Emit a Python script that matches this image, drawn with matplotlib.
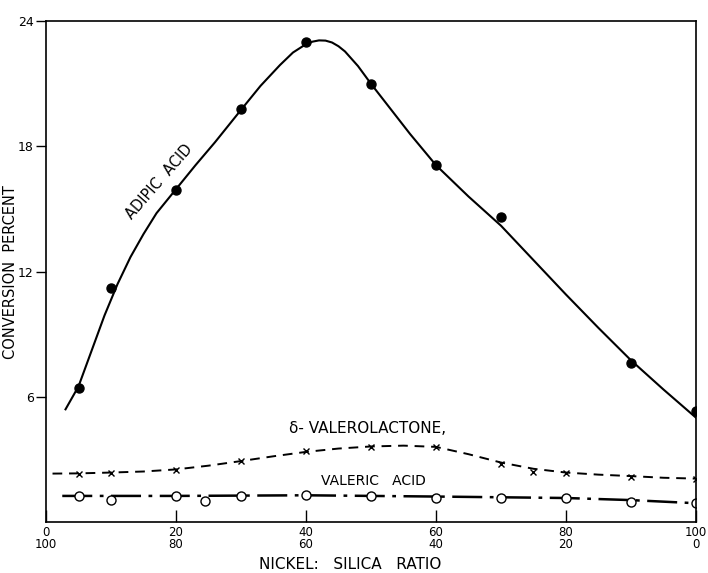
# nickel_silica_conversion.py
# Conversion percent of products vs. nickel:silica catalyst ratio

import matplotlib
matplotlib.use("Agg")
import matplotlib.pyplot as plt

# measured points
ratio = [5, 10, 20, 30, 40, 50, 60, 70, 90, 100]
adipic = [6.4, 11.2, 15.9, 19.8, 23.0, 21.0, 17.1, 14.6, 7.6, 5.3]

valero_x = [5, 10, 20, 30, 40, 50, 60, 70, 75, 80, 90, 100]
valero = [2.32, 2.37, 2.51, 2.9, 3.38, 3.59, 3.59, 2.8, 2.42, 2.37, 2.18, 2.08]

valeric_x = [5, 10, 20, 24.5, 30, 40, 50, 60, 70, 80, 90, 100]
valeric = [1.23, 1.07, 1.23, 1.01, 1.23, 1.3, 1.23, 1.14, 1.17, 1.17, 0.98, 0.91]

# hand-drawn fitted curves
adipic_curve_x = [3, 5, 7, 9, 11, 13, 15, 17, 20, 23, 26, 30, 33, 36, 38, 40,
                  41, 42, 43, 44, 45, 46, 48, 50, 53, 56, 60, 65, 70, 75, 80,
                  85, 90, 95, 100]
adipic_curve_y = [5.4, 6.5, 8.2, 9.9, 11.4, 12.7, 13.8, 14.8, 15.95, 17.1, 18.2,
                  19.75, 20.9, 21.9, 22.5, 22.9, 23.02, 23.08, 23.07, 22.98,
                  22.8, 22.55, 21.85, 21.0, 19.8, 18.6, 17.1, 15.6, 14.2, 12.55,
                  10.9, 9.3, 7.75, 6.35, 5.0]

valero_curve_x = [1, 5, 10, 15, 20, 25, 30, 35, 40, 45, 50, 55, 60, 65, 70, 75,
                  80, 85, 90, 95, 100]
valero_curve_y = [2.32, 2.33, 2.37, 2.42, 2.52, 2.7, 2.92, 3.15, 3.36, 3.52, 3.62,
                  3.66, 3.6, 3.25, 2.85, 2.55, 2.37, 2.27, 2.2, 2.12, 2.08]

valeric_curve_x = [2.5, 20, 40, 60, 80, 90, 100]
valeric_curve_y = [1.25, 1.25, 1.28, 1.22, 1.15, 1.05, 0.9]

xticks = [0, 20, 40, 60, 80, 100]
xtick_labels = ["0\n100", "20\n80", "40\n60", "60\n40", "80\n20", "100\n0"]
yticks = [6, 12, 18, 24]

fig = plt.figure(figsize=(7.08, 5.73), dpi=100)
ax = fig.add_axes([0.065, 0.089, 0.918, 0.874])

ax.plot(adipic_curve_x, adipic_curve_y, color="black", lw=1.5)
ax.plot(ratio, adipic, "o", color="black", ms=6.5)

ax.plot(valero_curve_x, valero_curve_y, color="black", lw=1.4, dashes=(5, 3.5))
ax.plot(valero_x, valero, "x", color="black", ms=4.5, mew=1.0)

ax.plot(valeric_curve_x, valeric_curve_y, color="black", lw=1.8,
        dashes=(12, 3, 1.5, 3))
ax.plot(valeric_x, valeric, "o", color="black", mfc="white", ms=6.5, mew=1.0)

ax.text(17.4, 16.3, "ADIPIC  ACID", rotation=49, ha="center", va="center",
        fontsize=10.5)
ax.text(49.4, 4.5, "δ- VALEROLACTONE,", ha="center", va="center", fontsize=11)
ax.text(50.3, 1.97, "VALERIC   ACID", ha="center", va="center", fontsize=10)

ax.set_xlim(0, 100)
ax.set_ylim(0, 24)
ax.set_xticks(xticks)
ax.set_xticklabels(xtick_labels, linespacing=0.85, fontsize=8.5)
ax.set_yticks(yticks)
ax.tick_params(axis="x", direction="in", length=9, width=1, pad=3)
ax.tick_params(axis="y", direction="out", length=7, width=1, pad=2,
               labelsize=9)
for s in ax.spines.values():
    s.set_linewidth(1.2)

ax.set_ylabel("CONVERSION  PERCENT", fontsize=10.5)
ax.yaxis.set_label_coords(-0.043, 0.5)
ax.set_xlabel("NICKEL:   SILICA   RATIO", fontsize=11)
ax.xaxis.set_label_coords(0.468, -0.07)

fig.savefig("out.png", dpi=100)
